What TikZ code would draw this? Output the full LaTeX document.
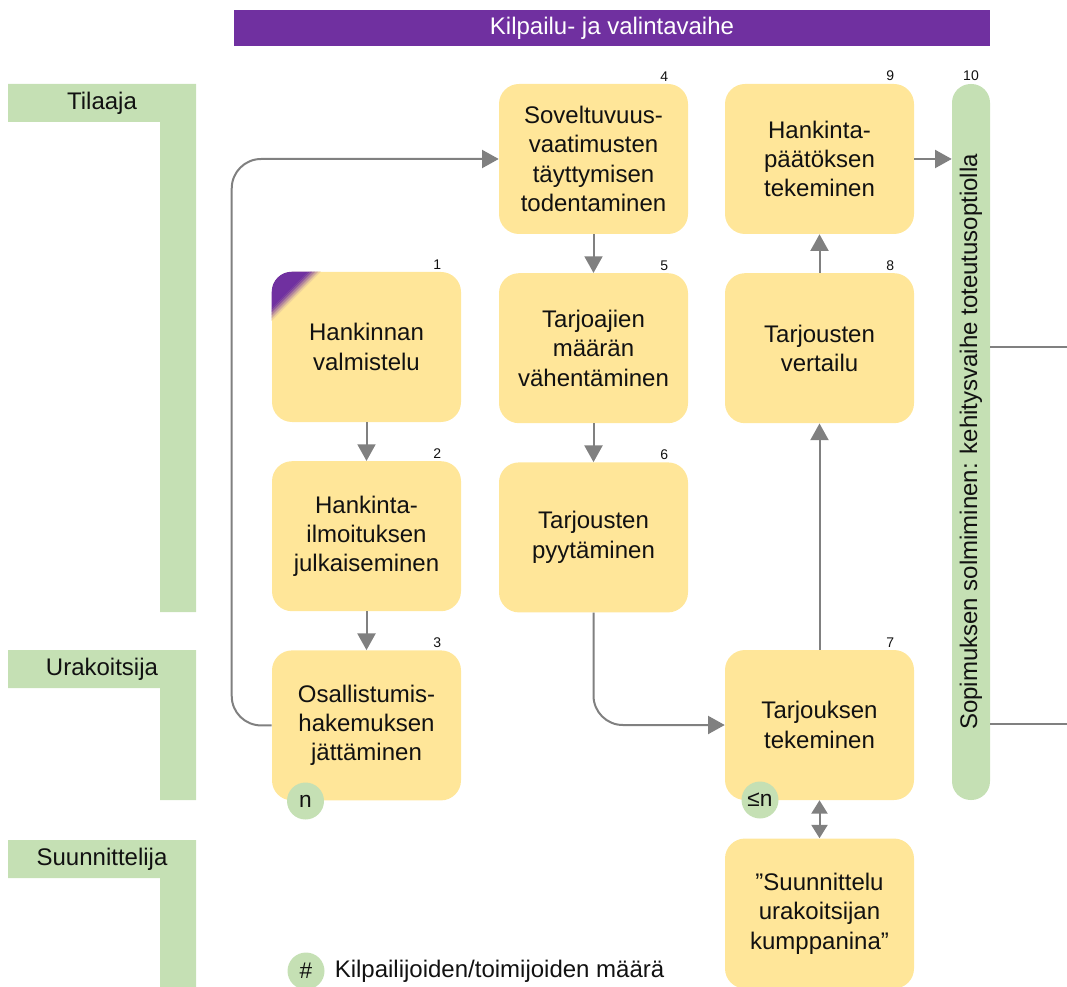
\documentclass[tikz,border=0pt]{standalone}
\usepackage{fontspec}
\setmainfont{Liberation Sans}
\usepackage{tikz}
\usetikzlibrary{positioning, arrows.meta, calc}
\definecolor{phasepurple}{HTML}{7030A0}
\definecolor{stepyellow}{HTML}{FFE699}
\definecolor{lanegreen}{HTML}{C5E0B4}
\definecolor{flowgray}{HTML}{808080}
\definecolor{textdark}{HTML}{111111}

\tikzset{
  stepbox/.style={fill=stepyellow, rounded corners=15pt, minimum width=141.75pt,
    minimum height=112.5pt, align=center, text=textdark, font=\fontsize{18}{22}\selectfont},
  numlab/.style={font=\fontsize{10.5}{12}\selectfont, inner sep=1pt, text=textdark},
  flow/.style={draw=flowgray, line width=1.5pt, -{Triangle[length=12.5pt,width=13.5pt]}},
  countdot/.style={circle, fill=lanegreen, minimum size=27.75pt, inner sep=0pt,
    text=textdark, font=\fontsize{17}{20}\selectfont},
  lanetext/.style={text=textdark, font=\fontsize{18}{22}\selectfont},
}

\begin{document}
\begin{tikzpicture}[x=0.75pt, y=-0.75pt]
  \useasboundingbox (0,0) rectangle (1067,987);

  % phase bar
  \node[fill=phasepurple, text=white, minimum width=567pt, minimum height=27pt,
        inner sep=0pt, font=\fontsize{18}{22}\selectfont] (phase) at (612,28) {Kilpailu- ja valintavaihe};

  % swimlanes
  \foreach \lane/\top/\bot in {Tilaaja/84/612, Urakoitsija/650/800, Suunnittelija/840/990}{
    \fill[lanegreen] (8,\top) -- (196,\top) -- (196,\bot) -- (160,\bot)
      -- (160,\top+38) -- (8,\top+38) -- cycle;
    \node[lanetext] (lane-\lane) at (102,\top+19) {\lane};
  }

  % steps
  \node[stepbox] (n1) at (366.5,347) {Hankinnan\\valmistelu};
  \node[stepbox, below=29pt of n1] (n2) {Hankinta-\\ilmoituksen\\julkaiseminen};
  \node[stepbox, below=29pt of n2] (n3) {Osallistumis-\\hakemuksen\\jättäminen};
  \node[stepbox] (n4) at (593.5,159) {Soveltuvuus-\\vaatimusten\\täyttymisen\\todentaminen};
  \node[stepbox, below=29pt of n4] (n5) {Tarjoajien\\määrän\\vähentäminen};
  \node[stepbox, below=29pt of n5] (n6) {Tarjousten\\pyytäminen};
  \node[stepbox] (n9) at (819.5,159) {Hankinta-\\päätöksen\\tekeminen};
  \node[stepbox, below=29pt of n9] (n8) {Tarjousten\\vertailu};
  \node[stepbox] (n7) at (819.5,725) {Tarjouksen\\tekeminen};
  \node[stepbox, below=28.5pt of n7] (n11) {”Suunnittelu\\urakoitsijan\\kumppanina”};
  \node[fill=lanegreen, rounded corners=14pt, minimum width=28.5pt, minimum height=537pt,
        inner sep=0pt, lanetext] (n10) at (971,442)
        {\rotatebox{90}{Sopimuksen solmiminen: kehitysvaihe toteutusoptiolla}};

  % purple corner of step 1
  \begin{scope}
    \clip[rounded corners=15pt] (n1.south west) rectangle (n1.north east);
    \fill[phasepurple] (n1.north west) -- ++(37,0) -- ++(-37,37) -- cycle;
    \foreach \i in {0,...,7}{
      \pgfmathtruncatemacro\mix{95-12*\i}
      \fill[phasepurple!\mix!stepyellow] ($(n1.north west)+(37+1.5*\i,0)$) -- ++(1.6,0)
        -- ($(n1.north west)+(0,38.6+1.5*\i)$) -- ++(0,-1.6) -- cycle;
    }
  \end{scope}

  % step numbers
  \foreach \k in {1,...,9}
    \node[numlab, anchor=south] at ($(n\k.north east)+(-24,-1)$) {\k};
  \node[numlab, anchor=south] at ($(n10.north)+(0,-1)$) {10};

  % flows
  \draw[flow] (n1) -- (n2);
  \draw[flow] (n2) -- (n3);
  \draw[flow] (n4) -- (n5);
  \draw[flow] (n5) -- (n6);
  \draw[flow, rounded corners=22pt] (n3.west) -- ++(-40,0) |- (n4.west);
  \draw[flow, rounded corners=22pt] (n6.south) |- (n7.west);
  \draw[flow] (n7) -- (n8);
  \draw[flow] (n8) -- (n9);
  \draw[flow] (n9.east) -- (n9.east -| n10.west);
  \draw[flow, {Triangle[length=10pt,width=12pt]}-{Triangle[length=10pt,width=12pt]}] (n7) -- (n11);

  % outgoing lines
  \coordinate (out1) at (1067,347);
  \coordinate (out2) at (1067,724);
  \draw[flowgray, line width=1.5pt] (n10.east |- out1) -- (out1);
  \draw[flowgray, line width=1.5pt] (n10.east |- out2) -- (out2);

  % counts
  \node[countdot] (c3) at (305.5,801) {n};
  \node[countdot] (c7) at (760,800) {≤n};

  % legend
  \node[countdot] (key) at (306,971) {\#};
  \node[lanetext, right=4pt of key] (keytext) {Kilpailijoiden/toimijoiden määrä};
\end{tikzpicture}
\end{document}
